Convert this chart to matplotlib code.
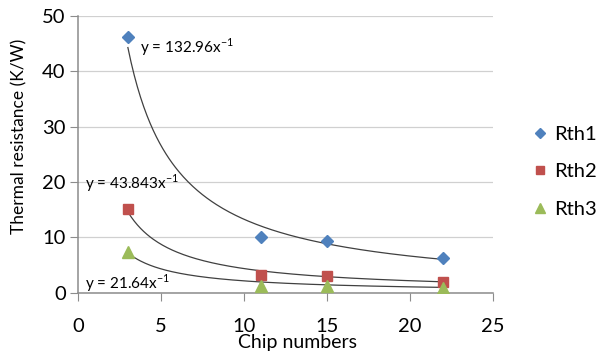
import numpy as np
import matplotlib
matplotlib.use("Agg")
import matplotlib.pyplot as plt

plt.rcParams["font.family"] = ["Lato", "DejaVu Sans"]
plt.rcParams["mathtext.fontset"] = "custom"
plt.rcParams["mathtext.rm"] = "Lato"

chips = [3, 11, 15, 22]
rth1 = [46.2, 10.1, 9.4, 6.3]
rth2 = [15.2, 3.3, 3.1, 1.9]
rth3 = [7.3, 1.3, 1.3, 0.8]

# power-law fits, y = a * x^-1
fit_coefs = [132.96, 43.843, 21.64]
fit_labels = ["y = 132.96x$^{\\mathrm{-1}}$", "y = 43.843x$^{\\mathrm{-1}}$",
              "y = 21.64x$^{\\mathrm{-1}}$"]
label_pos = [(3.7, 44.3), (0.4, 19.9), (0.4, 1.8)]

series = [("Rth1", rth1, "D", "#4f81bd", 6.5),
          ("Rth2", rth2, "s", "#c0504d", 7.5),
          ("Rth3", rth3, "^", "#9bbb59", 8)]

fig = plt.figure(figsize=(6.01, 3.58), dpi=100)
ax = fig.add_axes([0.13, 0.182, 0.69, 0.773])

xs = np.linspace(min(chips), max(chips), 200)
for a in fit_coefs:
    ax.plot(xs, a / xs, color="#404040", lw=0.9, zorder=2)

for name, vals, mk, col, ms in series:
    ax.plot(chips, vals, ls="none", marker=mk, color=col, ms=ms,
            label=name, zorder=3)

for txt, (tx, ty) in zip(fit_labels, label_pos):
    ax.text(tx, ty, txt, fontsize=11, va="center", ha="left", zorder=4)

ax.set_xlim(0, 25)
ax.set_ylim(0, 50)
ax.set_xticks(range(0, 26, 5))
ax.set_yticks(range(0, 51, 10))
ax.yaxis.grid(True, color="#d0d0d0", lw=0.9)
ax.set_axisbelow(True)
for s in ("top", "right"):
    ax.spines[s].set_visible(False)
for s in ("left", "bottom"):
    ax.spines[s].set_color("#8c8c8c")
    ax.spines[s].set_linewidth(1.1)
ax.tick_params(axis="x", direction="out", length=6, color="#8c8c8c",
               labelsize=14.5, pad=12)
ax.tick_params(axis="y", direction="out", length=6, color="#8c8c8c",
               labelsize=14.5, pad=3)
ax.set_xlabel("Chip numbers", fontsize=14)
ax.xaxis.set_label_coords(0.528, -0.148)
ax.set_ylabel("Thermal resistance (K/W)", fontsize=12.5)
ax.yaxis.set_label_coords(-0.123, 0.567)

ax.legend(loc="center left", bbox_to_anchor=(1.07, 0.437), frameon=False,
          fontsize=14.5, handletextpad=0.2, labelspacing=1.0,
          handlelength=1.0, borderaxespad=0, markerscale=0.85)

fig.savefig("out.png", dpi=100)
